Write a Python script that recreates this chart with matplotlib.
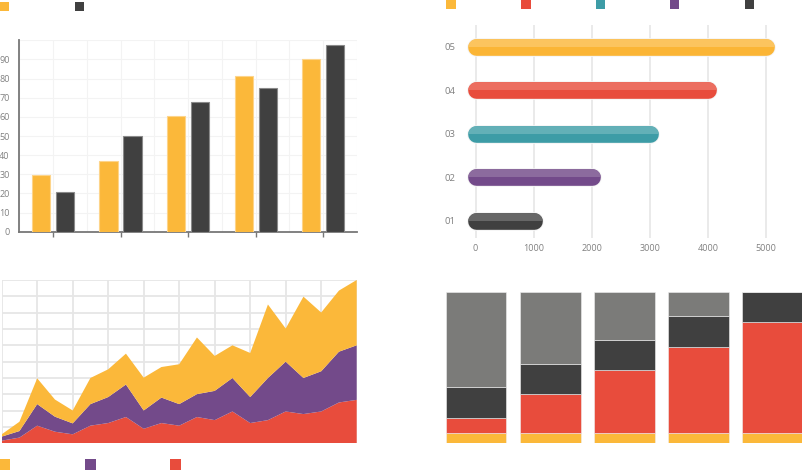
import matplotlib
matplotlib.use("Agg")
import matplotlib.pyplot as plt
from matplotlib.patches import Rectangle
import numpy as np

plt.rcParams['font.family'] = ['Open Sans', 'DejaVu Sans']

YELLOW = '#fbb83a'
RED = '#e84c3c'
TEAL = '#3d9ca6'
PURPLE = '#734a8a'
DARK = '#404040'
GRAY = '#7b7b79'
TXT = '#808080'

# top-left grouped bars
group_pos = [0, 1, 2, 3, 4]
bars_a = [29.5, 36.8, 60.3, 81.1, 90.0]
bars_b = [20.5, 50.0, 67.9, 75.2, 97.4]
yticks_tl = [0, 10, 20, 30, 40, 50, 60, 70, 80, 90]

# top-right rounded bars
hbar_labels = ['01', '02', '03', '04', '05']
hbar_vals = [1000, 2000, 3000, 4000, 5000]
hbar_dark = [DARK, PURPLE, TEAL, RED, '#fbb535']
hbar_light = ['#676767', '#8c6b9e', '#63b0b7', '#ec6e60', '#fcc45e']
xticks_tr = [0, 1000, 2000, 3000, 4000, 5000]

# bottom-left stacked area (cumulative tops)
area_x = list(range(21))
top_red = [1.6, 3.5, 10.8, 7.1, 5.5, 10.8, 12.4, 16.1, 8.9, 12.4, 10.8,
           16.1, 14.2, 19.5, 12.4, 14.2, 19.5, 17.9, 19.5, 25.0, 26.6]
top_purple = [4.1, 7.5, 24.0, 16.3, 12.2, 24.0, 28.3, 36.0, 20.1, 28.0, 24.0,
              30.1, 32.1, 40.0, 28.3, 40.0, 50.0, 40.0, 44.1, 56.1, 60.0]
top_yellow = [5.5, 13.2, 39.8, 26.8, 20.1, 40.0, 45.3, 54.9, 40.2, 46.7, 48.4,
              64.8, 53.5, 60.0, 55.3, 85.0, 70.3, 89.8, 80.1, 93.5, 100.0]

# bottom-right 100% stacked bars
col_pos = [0, 1, 2, 3, 4]
seg_yellow = [6.5, 6.5, 6.5, 6.5, 6.5]
seg_red = [10.5, 26.0, 42.0, 57.5, 73.5]
seg_dark = [20.0, 20.0, 20.0, 20.0, 20.0]
seg_gray = [63.0, 47.5, 31.5, 16.0, 0.0]

fig = plt.figure(figsize=(8.03, 4.70), dpi=100)

# ---- top-left
ax1 = fig.add_axes([0.024, 0.507, 0.4206, 0.4072])
x = np.array(group_pos)
ax1.bar(x - 0.178, bars_a, width=0.27, color=YELLOW, edgecolor='#fdd48a', linewidth=0.8, zorder=3)
ax1.bar(x + 0.178, bars_b, width=0.27, color=DARK, edgecolor='#8a8a8a', linewidth=0.8, zorder=3)
ax1.set_xlim(-0.5, 4.5)
ax1.set_ylim(0, 100)
ax1.set_yticks(yticks_tl)
ax1.set_xticks(group_pos)
ax1.set_xticklabels([])
ax1.set_xticks(np.arange(-0.5, 4.6, 0.5), minor=True)
ax1.set_yticks([100], minor=True)
ax1.grid(True, which='both', color='#f3f3f3', linewidth=0.8, zorder=0)
ax1.set_axisbelow(True)
for s in ['top', 'right']:
    ax1.spines[s].set_visible(False)
for s in ['left', 'bottom']:
    ax1.spines[s].set_color('#777777')
    ax1.spines[s].set_linewidth(1.3)
ax1.tick_params(axis='y', length=0, pad=7, labelsize=6.5, labelcolor=TXT)
ax1.tick_params(axis='x', which='major', direction='out', length=3.5, width=1, color='#777777')
ax1.tick_params(axis='both', which='minor', length=0)

# ---- top-right
ax2 = fig.add_axes([0.5778, 0.4936, 0.4052, 0.4532])
ax2.set_xlim(-200, 5400)
ax2.set_ylim(0.6, 5.5)
for i, (v, cd, cl) in enumerate(zip(hbar_vals, hbar_dark, hbar_light)):
    yy = i + 1
    ax2.plot([0, v], [yy, yy], color='#f4f4f4', linewidth=13.4, solid_capstyle='round', zorder=3)
    ax2.plot([0, v], [yy, yy], color=cd, linewidth=12, solid_capstyle='round', zorder=4)
    top = ax2.plot([0, v], [yy, yy], color=cl, linewidth=12, solid_capstyle='round', zorder=5)[0]
    clip = Rectangle((-1000, yy), 7000, 0.4, transform=ax2.transData)
    top.set_clip_path(clip)
ax2.set_yticks([1, 2, 3, 4, 5])
ax2.set_yticklabels(hbar_labels)
ax2.set_xticks(xticks_tr)
ax2.grid(True, axis='x', color='#e6e6e6', linewidth=1.2, zorder=0)
ax2.set_axisbelow(True)
for s in ax2.spines.values():
    s.set_visible(False)
ax2.tick_params(axis='y', length=0, pad=6, labelsize=6.8, labelcolor=TXT)
ax2.tick_params(axis='x', length=0, pad=4, labelsize=6.5, labelcolor=TXT)

# ---- bottom-left
ax3 = fig.add_axes([0.0021, 0.0568, 0.4421, 0.3475])
l_red = np.array(top_red)
l_pur = np.array(top_purple) - l_red
l_yel = np.array(top_yellow) - np.array(top_purple)
ax3.stackplot(area_x, l_red, l_pur, l_yel, colors=[RED, PURPLE, YELLOW], linewidth=0, zorder=3)
ax3.set_xlim(0, 20)
ax3.set_ylim(0, 100)
ax3.set_xticks(range(0, 21, 2))
ax3.set_yticks(range(0, 101, 10))
ax3.set_xticklabels([])
ax3.set_yticklabels([])
ax3.tick_params(length=0)
ax3.grid(True, color='#e6e6e6', linewidth=1.3, zorder=0)
ax3.set_axisbelow(True)
for s in ax3.spines.values():
    s.set_visible(False)

# ---- bottom-right
ax4 = fig.add_axes([0.548, 0.0568, 0.452, 0.3213])
b = np.zeros(5)
for seg, c in [(seg_yellow, YELLOW), (seg_red, RED), (seg_dark, DARK), (seg_gray, GRAY)]:
    ax4.bar(col_pos, seg, bottom=b, width=0.82, color=c, edgecolor='#f0f0f0', linewidth=0.4)
    b = b + np.array(seg)
ax4.set_xlim(-0.484, 4.41)
ax4.set_ylim(0, 100)
ax4.axis('off')

# ---- legend keys
def key(x0, y0, c, w=9.5, h=9):
    fig.add_artist(Rectangle((x0 / 803, 1 - (y0 + h) / 470), w / 803, h / 470,
                             transform=fig.transFigure, color=c, linewidth=0))

key(0, 2, YELLOW)
key(75, 2, DARK)
for xk, c in zip([446, 521, 596, 670, 745], [YELLOW, RED, TEAL, PURPLE, DARK]):
    key(xk, 0, c, h=8.5)
for xk, c in zip([0, 85, 170], [YELLOW, PURPLE, RED]):
    key(xk, 459, c, w=10.5, h=11)

fig.savefig('out.png', dpi=100)
